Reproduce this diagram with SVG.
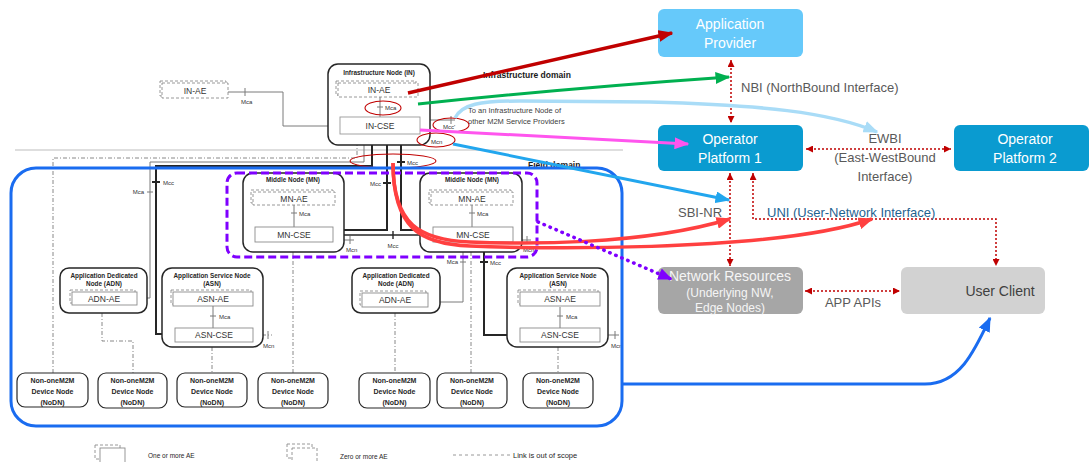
<svg xmlns="http://www.w3.org/2000/svg" width="1091" height="462" viewBox="0 0 1091 462">
<style>
.t{font-family:"Liberation Sans",Arial,sans-serif;fill:#262626}
.tt{font-size:6.4px;font-weight:bold;text-anchor:middle}
.tb{font-size:8.5px;text-anchor:middle;fill:#333}
.ts{font-size:6px;fill:#333}
.tn{font-size:7px;font-weight:bold;text-anchor:middle}
.nd{fill:#fff;stroke:#262626;stroke-width:1.5}
.ae{fill:#fff;stroke:#8c8c8c;stroke-width:0.9}
.aed{fill:#fff;stroke:#8c8c8c;stroke-width:0.9;stroke-dasharray:3 2}
.ln{fill:none;stroke:#7a7a7a;stroke-width:1}
.lk{fill:none;stroke:#262626;stroke-width:2}
.dd{fill:none;stroke:#7a7a7a;stroke-width:0.9;stroke-dasharray:4 2 1 2}
.el{fill:none;stroke:#c00000;stroke-width:1.1}
.dot{fill:none;stroke:#c00000;stroke-width:1.5;stroke-dasharray:2 2;marker-start:url(#ar);marker-end:url(#ar)}
.bx{font-family:"Liberation Sans",Arial,sans-serif;font-size:14px;text-anchor:middle;fill:#fff}
.lb{font-family:"Liberation Sans",Arial,sans-serif;font-size:13px;fill:#595959}
.dom{font-family:"Liberation Sans",Arial,sans-serif;font-size:8.5px;font-weight:bold;fill:#1a1a1a}
</style>
<defs>
<marker id="ar" viewBox="0 0 10 10" refX="10" refY="5" markerWidth="7" markerHeight="7" markerUnits="userSpaceOnUse" orient="auto-start-reverse"><path d="M0,0L10,5L0,10z" fill="#c00000"/></marker>
<marker id="mDR" viewBox="0 0 10 10" refX="9" refY="5" markerWidth="15" markerHeight="12" markerUnits="userSpaceOnUse" preserveAspectRatio="none" orient="auto"><path d="M0,0L10,5L0,10z" fill="#c00000"/></marker>
<marker id="mG" viewBox="0 0 10 10" refX="9" refY="5" markerWidth="15" markerHeight="12" markerUnits="userSpaceOnUse" preserveAspectRatio="none" orient="auto"><path d="M0,0L10,5L0,10z" fill="#00b050"/></marker>
<marker id="mLB" viewBox="0 0 10 10" refX="9" refY="5" markerWidth="15" markerHeight="12" markerUnits="userSpaceOnUse" preserveAspectRatio="none" orient="auto"><path d="M0,0L10,5L0,10z" fill="#a9dcf7"/></marker>
<marker id="mM" viewBox="0 0 10 10" refX="9" refY="5" markerWidth="15" markerHeight="12" markerUnits="userSpaceOnUse" preserveAspectRatio="none" orient="auto"><path d="M0,0L10,5L0,10z" fill="#ff55ee"/></marker>
<marker id="mB" viewBox="0 0 10 10" refX="9" refY="5" markerWidth="15" markerHeight="12" markerUnits="userSpaceOnUse" preserveAspectRatio="none" orient="auto"><path d="M0,0L10,5L0,10z" fill="#22a6ee"/></marker>
<marker id="mR" viewBox="0 0 10 10" refX="9" refY="5" markerWidth="15" markerHeight="12" markerUnits="userSpaceOnUse" preserveAspectRatio="none" orient="auto"><path d="M0,0L10,5L0,10z" fill="#ff4040"/></marker>
<marker id="mP" viewBox="0 0 10 10" refX="9" refY="5" markerWidth="14" markerHeight="12" markerUnits="userSpaceOnUse" preserveAspectRatio="none" orient="auto"><path d="M0,0L10,5L0,10z" fill="#7f00ff"/></marker>
<marker id="mBB" viewBox="0 0 10 10" refX="9" refY="5" markerWidth="15" markerHeight="12" markerUnits="userSpaceOnUse" preserveAspectRatio="none" orient="auto"><path d="M0,0L10,5L0,10z" fill="#1a6cf0"/></marker>
</defs>
<rect width="1091" height="462" fill="#fff"/>

<!-- domain separator and labels -->
<path d="M15,150H623" stroke="#bdbdbd" stroke-width="1" fill="none"/>
<text class="dom" x="483" y="78">Infrastructure domain</text>
<text class="dom" x="528" y="168">Field domain</text>
<text class="t" x="468" y="113" style="font-size:7.5px;fill:#404040">To an Infrastructure Node of</text>
<text class="t" x="468" y="124" style="font-size:7.5px;fill:#404040">other M2M Service Providers</text>

<!-- oneM2M internal links -->
<g id="onem2m-links">
<path class="ln" d="M228,92H283V126H340"/>
<path class="ln" d="M245,88V96"/>
<text class="t ts" x="241" y="104">Mca</text>
<path class="ln" d="M420,120H455M451,116V124M420,130H428V138"/>
<text class="t ts" x="443" y="128.5">Mcc'</text>
<text class="t ts" x="431" y="144">Mcn</text>
<path class="dd" d="M53,373V158H357V134"/>
<path class="ln" d="M137,298H150V162H364V134M147,192H153"/>
<text class="t ts" x="144" y="194" text-anchor="end">Mca</text>
<path class="lk" d="M372,134V166H156V334H175M152,182H160"/>
<text class="t ts" x="163" y="185">Mcc</text>
<path class="lk" d="M387,134V230H333M383,183H391"/>
<text class="t ts" x="381" y="186" text-anchor="end">Mcc</text>
<path class="lk" d="M401,134V230H433M397,162H405"/>
<text class="t ts" x="407" y="165">Mcc</text>
<path class="lk" style="stroke-width:1.4" d="M333,235H433M393,231V239"/>
<text class="t ts" x="393" y="248" text-anchor="middle">Mcc</text>
<path class="ln" d="M333,240H354M350,236V244"/>
<text class="t ts" x="346" y="252">Mcn</text>
<path class="ln" d="M513,240H531M527,236V244"/>
<text class="t ts" x="523" y="252">Mcn</text>
<path class="dd" d="M293,252V373"/>
<path class="ln" d="M463,252V302H428M460,262H466"/>
<text class="t ts" x="458" y="264" text-anchor="end">Mca</text>
<path class="dd" d="M471,252V373"/>
<path class="lk" d="M484,252V335H520M480,262H488"/>
<text class="t ts" x="490" y="265">Mcc</text>
<path class="dd" d="M102,313V341H133V373"/>
<path class="ln" d="M213,306V328M210,316H216"/>
<text class="t ts" x="219" y="319">Mca</text>
<path class="dd" d="M253,335H272"/>
<path class="ln" d="M268,331V339"/>
<text class="t ts" x="263" y="348">Mcn</text>
<path class="dd" d="M212,347V373"/>
<path class="dd" d="M395,313V373"/>
<path class="ln" d="M560,307V328M557,316H563"/>
<text class="t ts" x="566" y="319">Mca</text>
<path class="ln" d="M600,335H619M615,331V339"/>
<text class="t ts" x="611" y="348">Mcn</text>
<path class="dd" d="M558,347V373"/>
</g>

<g id="in-ae-ext">
<rect class="aed" x="160" y="81" width="66" height="15"/>
<rect class="aed" x="162" y="83" width="66" height="15"/>
<text class="t tb" x="195" y="94">IN-AE</text>
</g>

<g id="in-node">
<rect class="nd" x="328" y="64" width="102" height="81" rx="10"/>
<text class="t tt" x="379" y="75">Infrastructure Node (IN)</text>
<rect class="aed" x="336" y="81" width="80" height="14"/>
<rect class="aed" x="338" y="83" width="80" height="14"/>
<text class="t tb" x="379" y="93">IN-AE</text>
<path class="ln" d="M380,97V117M377,107H383"/>
<text class="t ts" x="385" y="110">Mca</text>
<rect x="340" y="117" width="80" height="17" fill="#fff" stroke="#999" stroke-width="0.9"/>
<text class="t tb" x="380" y="129">IN-CSE</text>
</g>

<g id="mn-left">
<rect class="nd" x="243" y="173" width="101" height="79" rx="10"/>
<text class="t tt" x="293" y="182">Middle Node (MN)</text>
<rect class="aed" x="251" y="190" width="82" height="13"/>
<rect class="aed" x="253" y="192" width="82" height="13"/>
<text class="t tb" x="294" y="202">MN-AE</text>
<path class="ln" d="M294,205V227M291,213H297"/>
<text class="t ts" x="299" y="216">Mca</text>
<rect class="ae" x="255" y="227" width="78" height="15"/>
<text class="t tb" x="294" y="238">MN-CSE</text>
</g>

<g id="mn-right">
<rect class="nd" x="420" y="173" width="102" height="79" rx="10"/>
<text class="t tt" x="472" y="182">Middle Node (MN)</text>
<rect class="aed" x="429" y="190" width="82" height="13"/>
<rect class="aed" x="431" y="192" width="82" height="13"/>
<text class="t tb" x="472" y="202">MN-AE</text>
<path class="ln" d="M472,205V227M469,213H475"/>
<text class="t ts" x="477" y="216">Mca</text>
<rect class="ae" x="433" y="227" width="80" height="15"/>
<text class="t tb" x="473" y="238">MN-CSE</text>
</g>

<g id="adn-left">
<rect class="nd" x="60" y="268" width="87" height="45" rx="9"/>
<text class="t tt" x="104" y="278">Application Dedicated</text>
<text class="t tt" x="104" y="286">Node (ADN)</text>
<rect class="aed" x="70" y="290" width="65" height="13"/>
<rect class="ae" x="72" y="292" width="65" height="13"/>
<text class="t tb" x="104" y="302">ADN-AE</text>
</g>

<g id="asn-left">
<rect class="nd" x="162" y="268" width="101" height="79" rx="10"/>
<text class="t tt" x="212" y="278">Application Service Node</text>
<text class="t tt" x="212" y="286">(ASN)</text>
<rect class="aed" x="171" y="290" width="80" height="14"/>
<rect class="ae" x="173" y="292" width="80" height="14"/>
<text class="t tb" x="213" y="302">ASN-AE</text>
<path class="ln" d="M213,306V328M210,316H216"/>
<text class="t ts" x="219" y="319">Mca</text>
<rect class="ae" x="175" y="328" width="78" height="14"/>
<text class="t tb" x="214" y="338">ASN-CSE</text>
</g>

<g id="adn-right">
<rect class="nd" x="352" y="268" width="88" height="45" rx="9"/>
<text class="t tt" x="396" y="278">Application Dedicated</text>
<text class="t tt" x="396" y="286">Node (ADN)</text>
<rect class="aed" x="360" y="291" width="66" height="14"/>
<rect class="ae" x="362" y="293" width="66" height="14"/>
<text class="t tb" x="395" y="303">ADN-AE</text>
</g>

<g id="asn-right">
<rect class="nd" x="507" y="268" width="101" height="79" rx="10"/>
<text class="t tt" x="558" y="278">Application Service Node</text>
<text class="t tt" x="558" y="286">(ASN)</text>
<rect class="aed" x="518" y="290" width="80" height="14"/>
<rect class="ae" x="520" y="292" width="80" height="14"/>
<text class="t tb" x="560" y="302">ASN-AE</text>
<path class="ln" d="M560,307V328M557,316H563"/>
<text class="t ts" x="566" y="319">Mca</text>
<rect class="ae" x="520" y="328" width="80" height="14"/>
<text class="t tb" x="560" y="338">ASN-CSE</text>
</g>

<g id="nodn-1"><rect class="nd" style="stroke-width:1.2" x="17" y="373" width="71" height="34" rx="8"/><text class="t tn" x="52.5" y="383">Non-oneM2M</text><text class="t tn" x="52.5" y="394">Device Node</text><text class="t tn" x="52.5" y="405">(NoDN)</text></g>
<g id="nodn-2"><rect class="nd" style="stroke-width:1.2" x="98" y="373" width="69" height="35" rx="8"/><text class="t tn" x="132.5" y="383">Non-oneM2M</text><text class="t tn" x="132.5" y="394">Device Node</text><text class="t tn" x="132.5" y="405">(NoDN)</text></g>
<g id="nodn-3"><rect class="nd" style="stroke-width:1.2" x="177" y="373" width="70" height="34" rx="8"/><text class="t tn" x="212" y="383">Non-oneM2M</text><text class="t tn" x="212" y="394">Device Node</text><text class="t tn" x="212" y="405">(NoDN)</text></g>
<g id="nodn-4"><rect class="nd" style="stroke-width:1.2" x="258" y="373" width="70" height="35" rx="8"/><text class="t tn" x="293" y="383">Non-oneM2M</text><text class="t tn" x="293" y="394">Device Node</text><text class="t tn" x="293" y="405">(NoDN)</text></g>
<g id="nodn-5"><rect class="nd" style="stroke-width:1.2" x="359" y="373" width="71" height="35" rx="8"/><text class="t tn" x="394.5" y="383">Non-oneM2M</text><text class="t tn" x="394.5" y="394">Device Node</text><text class="t tn" x="394.5" y="405">(NoDN)</text></g>
<g id="nodn-6"><rect class="nd" style="stroke-width:1.2" x="437" y="373" width="70" height="35" rx="8"/><text class="t tn" x="472" y="383">Non-oneM2M</text><text class="t tn" x="472" y="394">Device Node</text><text class="t tn" x="472" y="405">(NoDN)</text></g>
<g id="nodn-7"><rect class="nd" style="stroke-width:1.2" x="523" y="373" width="70" height="35" rx="8"/><text class="t tn" x="558" y="383">Non-oneM2M</text><text class="t tn" x="558" y="394">Device Node</text><text class="t tn" x="558" y="405">(NoDN)</text></g>

<!-- red ellipses -->
<g id="interface-marks">
<ellipse class="el" cx="383" cy="108" rx="18" ry="7"/>
<ellipse class="el" cx="451" cy="125" rx="18" ry="7"/>
<ellipse class="el" cx="436" cy="140" rx="19" ry="7"/>
<ellipse class="el" cx="393" cy="161" rx="43" ry="7"/>
</g>

<!-- groupings -->
<g id="mn-group">
<rect x="227" y="173" width="310" height="84" rx="10" fill="none" stroke="#7f00ff" stroke-width="3" stroke-dasharray="8 4"/>
</g>
<g id="field-area">
<rect x="11" y="168" width="611" height="258" rx="25" fill="none" stroke="#1a6cf0" stroke-width="3"/>
</g>

<!-- right side boxes -->
<g id="app-provider">
<rect x="658" y="9" width="145" height="48" rx="6" fill="#66c9fa"/>
<text class="bx" x="730" y="29">Application</text>
<text class="bx" x="730" y="48">Provider</text>
</g>
<g id="op-platform-1">
<rect x="658" y="125" width="145" height="46" rx="6" fill="#0a9bd0"/>
<text class="bx" x="730" y="144">Operator</text>
<text class="bx" x="730" y="163">Platform 1</text>
</g>
<g id="op-platform-2">
<rect x="954" y="125" width="135" height="46" rx="6" fill="#0a9bd0"/>
<text class="bx" x="1025" y="144">Operator</text>
<text class="bx" x="1025" y="163">Platform 2</text>
</g>
<g id="network-resources">
<rect x="658" y="267" width="145" height="47" rx="6" fill="#a6a6a6"/>
<text class="bx" x="730" y="281" style="fill:#f5f5f5">Network Resources</text>
<text class="bx" x="730" y="297" style="font-size:12px;fill:#f5f5f5">(Underlying NW,</text>
<text class="bx" x="730" y="312" style="font-size:12px;fill:#f5f5f5">Edge Nodes)</text>
</g>
<g id="user-client">
<rect x="901" y="267" width="144" height="47" rx="6" fill="#d2d2d2"/>
<text class="bx" x="1000" y="296" style="fill:#404040">User Client</text>
</g>

<!-- connectors -->
<g id="connectors">
<path class="dot" d="M731,60V123"/>
<path class="dot" d="M806,149H951"/>
<path class="dot" d="M730,173V266"/>
<path class="dot" d="M753,173V219H996V266"/>
<path class="dot" d="M805,291H900"/>
<path d="M408,93L672,33" fill="none" stroke="#c00000" stroke-width="3.5" marker-end="url(#mDR)"/>
<path d="M418,104Q570,88 729,77" fill="none" stroke="#00b050" stroke-width="3" marker-end="url(#mG)"/>
<path d="M455,118C462,104 480,101 520,101L650,102C760,105 830,112 877,132" fill="none" stroke="#a9dcf7" stroke-width="3.5" marker-end="url(#mLB)"/>
<path d="M420,130L688,144" fill="none" stroke="#ff55ee" stroke-width="3" marker-end="url(#mM)"/>
<path d="M453,144L729,200" fill="none" stroke="#22a6ee" stroke-width="3" marker-end="url(#mB)"/>
<path d="M393,163C393,225 420,240 470,242S640,246 730,219" fill="none" stroke="#ff4040" stroke-width="3.5" marker-end="url(#mR)"/>
<path d="M393,163C393,228 420,244 470,246S770,254 872,219" fill="none" stroke="#ff4040" stroke-width="3.5" marker-end="url(#mR)"/>
<path d="M538,222L671,279" fill="none" stroke="#7f00ff" stroke-width="3.5" stroke-dasharray="0.5 6" stroke-linecap="round" marker-end="url(#mP)"/>
<path d="M622,384H925C960,384 975,350 990,318" fill="none" stroke="#1a6cf0" stroke-width="3" marker-end="url(#mBB)"/>
</g>

<!-- interface labels -->
<text class="lb" x="741" y="92">NBI (NorthBound Interface)</text>
<text class="lb" x="885" y="143" text-anchor="middle">EWBI</text>
<text class="lb" x="885" y="162" text-anchor="middle">(East-WestBound</text>
<text class="lb" x="885" y="181" text-anchor="middle">Interface)</text>
<text class="lb" x="700" y="217" text-anchor="middle">SBI-NR</text>
<text class="lb" x="767" y="217" style="fill:#1f6391">UNI (User-Network Interface)</text>
<text class="lb" x="853" y="307" text-anchor="middle">APP APIs</text>

<!-- legend -->
<g id="legend">
<rect class="aed" x="95" y="445" width="25" height="14"/>
<rect class="ae" x="100" y="448" width="25" height="16"/>
<text class="t" x="148" y="458" style="font-size:6.5px">One or more AE</text>
<rect class="aed" x="287" y="444" width="25" height="14"/>
<rect class="aed" x="292" y="448" width="25" height="16"/>
<text class="t" x="340" y="459" style="font-size:6.5px">Zero or more AE</text>
<path d="M453,455H510" stroke="#8c8c8c" stroke-width="0.9" stroke-dasharray="3 3"/>
<text class="t" x="513" y="458" style="font-size:7.5px">Link is out of scope</text>
</g>
</svg>
